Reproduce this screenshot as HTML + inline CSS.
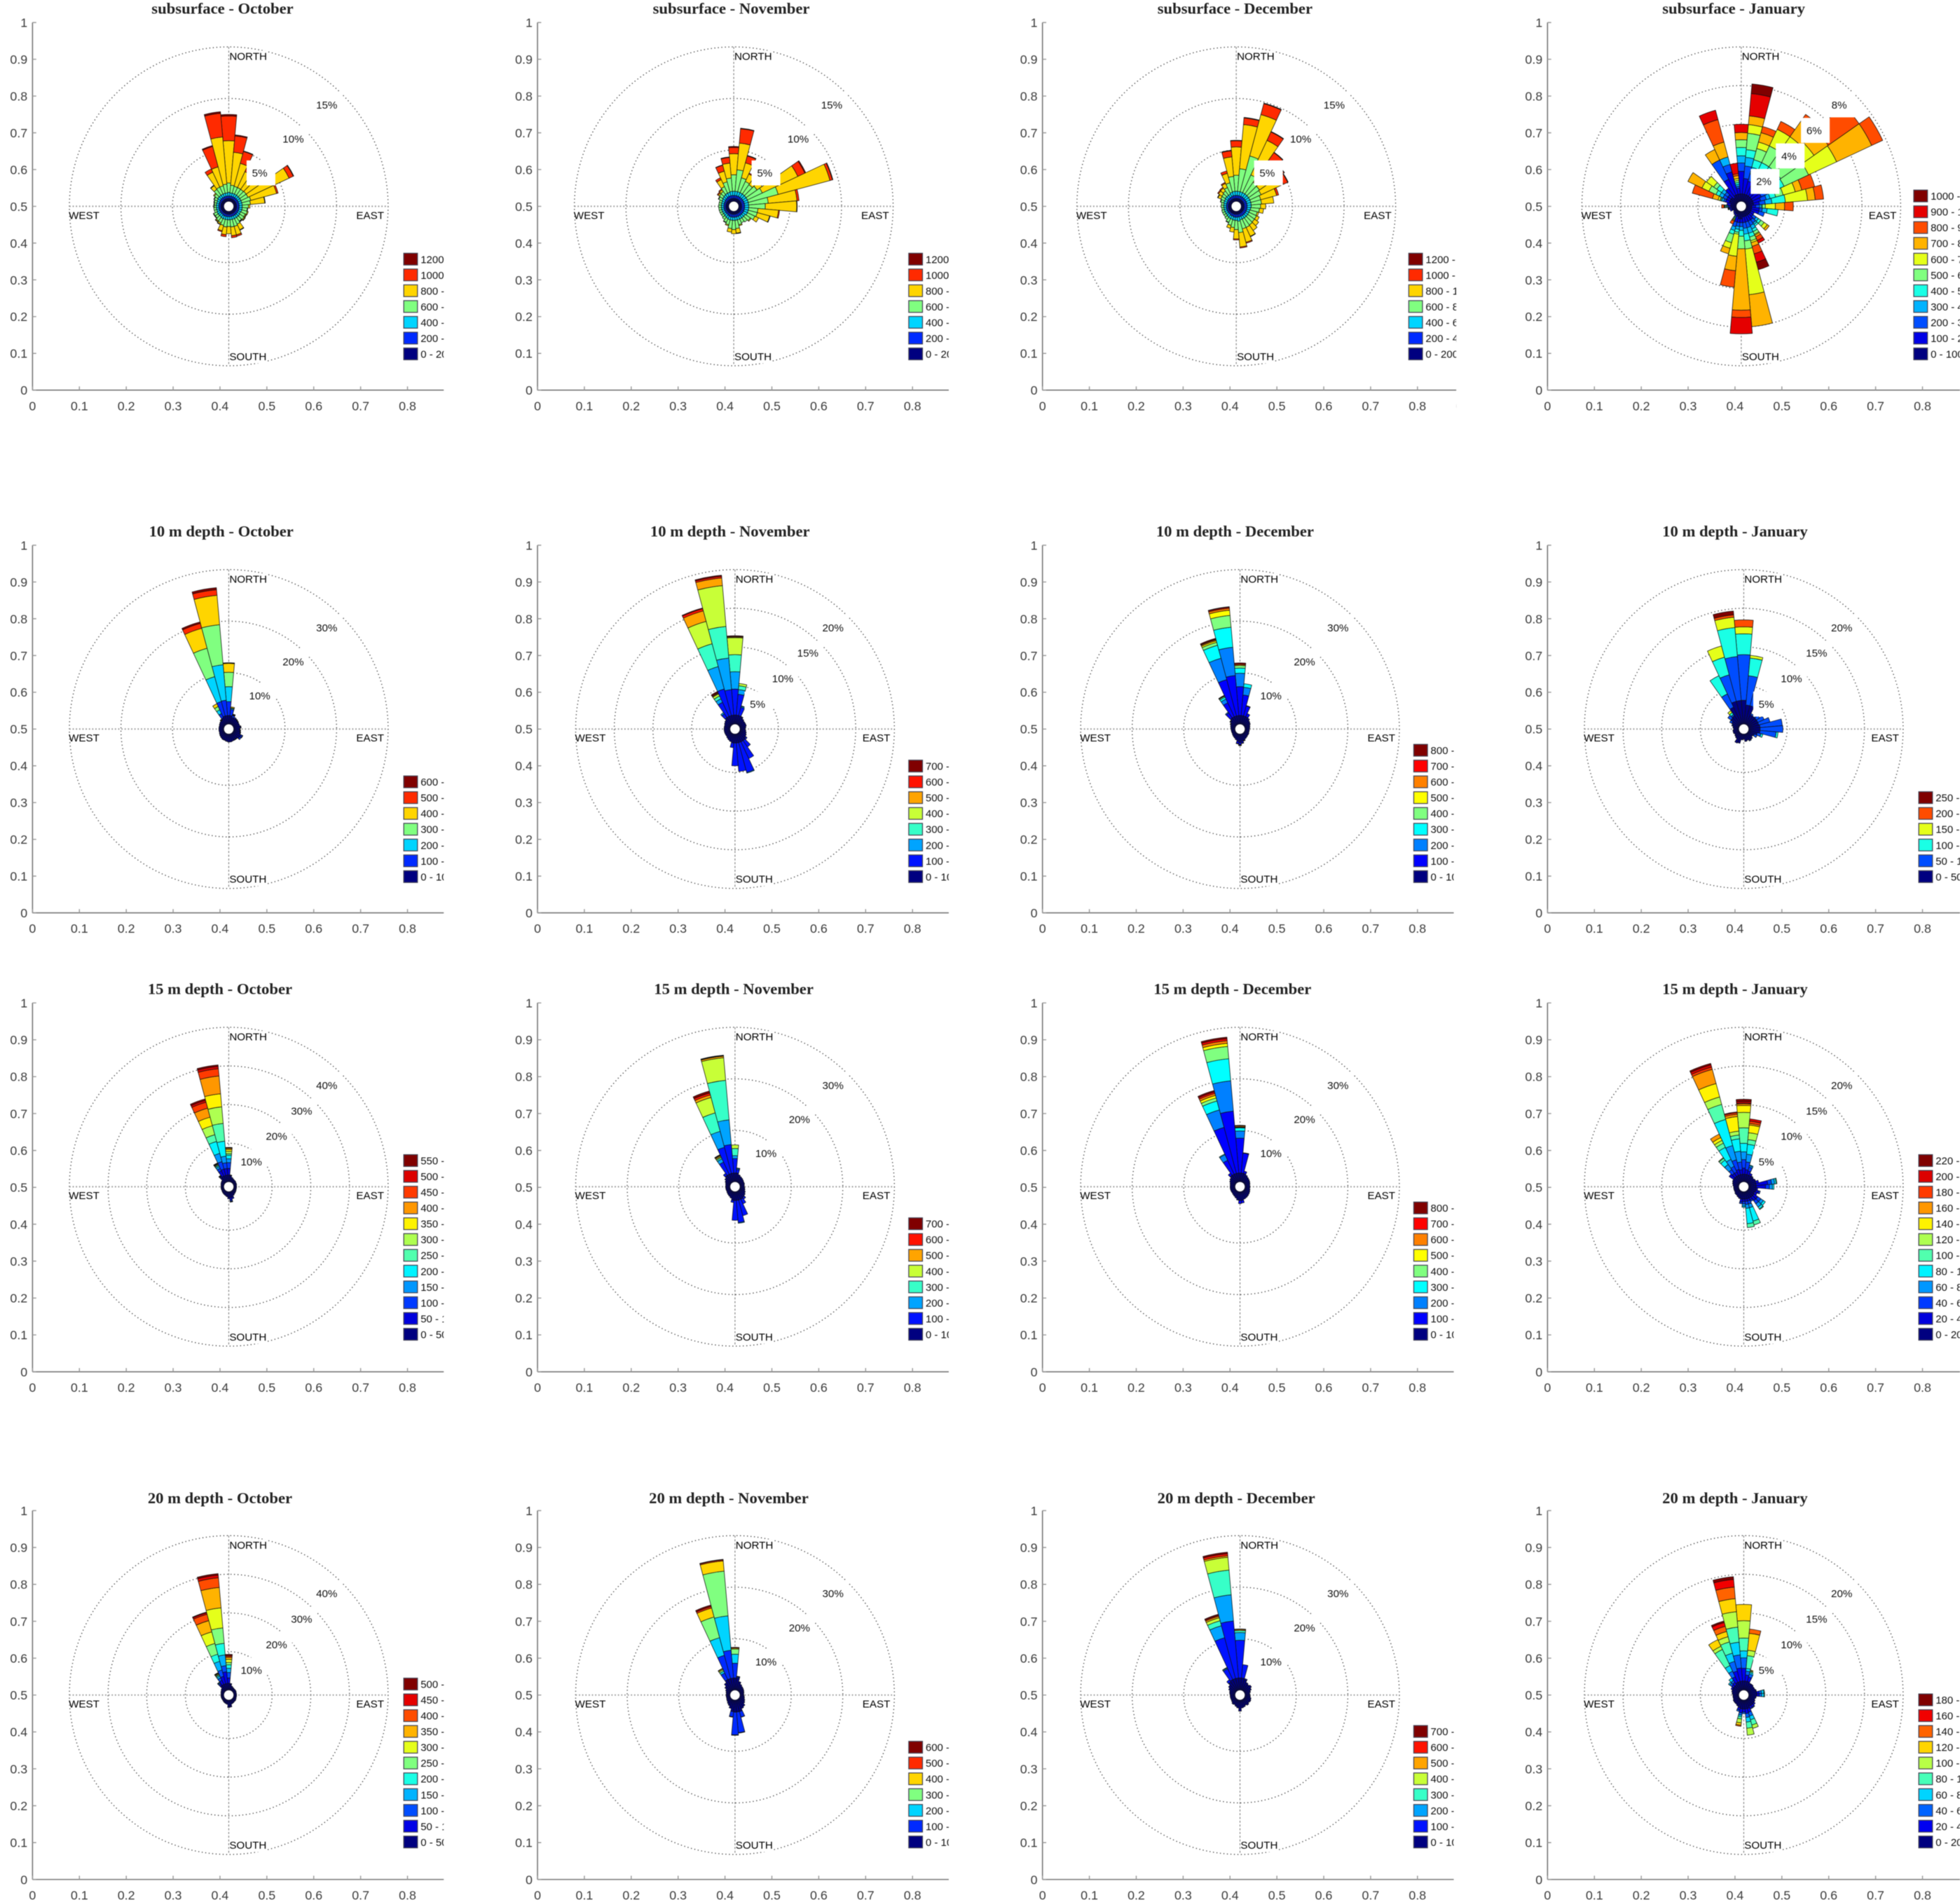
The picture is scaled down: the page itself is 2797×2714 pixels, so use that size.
<!DOCTYPE html>
<html lang="en">
<head>
<meta charset="utf-8">
<title>Wind rose panels by depth and month</title>
<style>
html,body{margin:0;padding:0;background:#fff}
svg{display:block;width:2797px;height:2714px;filter:blur(0.5px)}
text{font-family:"Liberation Sans",sans-serif}
.ttl{font-family:"Liberation Serif",serif;font-weight:bold;font-size:12.7px;fill:#222;text-anchor:middle}
.tick{font-size:10px;fill:#3c3c3c}
.cmp{font-size:8.5px;fill:#000}
.rng{font-size:8.5px;fill:#111;text-anchor:middle}
.leg{font-size:8.4px;fill:#111}
</style>
</head>
<body>
<svg id="chart" xmlns="http://www.w3.org/2000/svg" viewBox="0 0 1568 1521" preserveAspectRatio="none"></svg>
<script>
/* Category labels */
const depthNames = ["subsurface", "10 m depth", "15 m depth", "20 m depth"];
const monthNames = ["October", "November", "December", "January"];
const xTickLabels = ["0","0.1","0.2","0.3","0.4","0.5","0.6","0.7","0.8","0.9"];
const yTickLabels = ["0","0.1","0.2","0.3","0.4","0.5","0.6","0.7","0.8","0.9","1"];
/* Percent-of-time ring labels for each panel */
const ringValues = [
 [[5,10,15],[5,10,15],[5,10,15],[2,4,6,8]],
 [[10,20,30],[5,10,15,20],[10,20,30],[5,10,15,20]],
 [[10,20,30,40],[10,20,30],[10,20,30],[5,10,15,20]],
 [[10,20,30,40],[10,20,30],[10,20,30],[5,10,15,20]]
];
/* Legend bins: bin count and bin width for each panel */
const binCounts = [[7,7,7,11],[7,8,9,6],[12,8,9,12],[11,7,8,10]];
const binSteps = [[200,200,200,100],[100,100,100,50],[50,100,100,20],[50,100,100,20]];

/* Each series: 36 directions (0,10,...,350 deg clockwise from north); each row is the stacked percent per bin */
const subsurfaceOctober = [
[.3,.25,.35,.9,4.1,2.4,.15],[.3,.25,.3,.75,3.2,1.6,.1],[.3,.25,.3,.7,2.3,1.2,.05],[.3,.25,.3,.7,1.7,.4],[.3,.25,.3,.7,1.7,.3],[.3,.25,.3,.75,3,.2],
[.3,.25,.3,.75,4.4,.45,.05],[.3,.25,.3,.9,2.6,.15],[.3,.25,.3,.8,1.4,.05],[.3,.25,.3,.6,.15],[.3,.25,.3,.5,.05],[.3,.25,.3,.55,.1],
[.3,.25,.25,.5,.1,.05],[.3,.25,.3,.5,.1,.05],[.3,.25,.3,.45,.05,.05],[.3,.25,.3,.6,.6,.05],[.3,.25,.3,.7,.85,.15],[.3,.25,.3,.7,.85,.2],
[.3,.25,.3,.65,.7],[.3,.25,.3,.7,.75,.2],[.3,.25,.3,.6,.55,.1],[.3,.25,.3,.45,.15,.05],[.3,.2,.3,.45,.1,.05],[.3,.2,.3,.35,.05],
[.3,.2,.3,.35,.05],[.3,.2,.25,.25],[.3,.2,.25,.25],[.3,.2,.25,.2,.05],[.3,.2,.25,.2,.05],[.3,.2,.25,.25,.05],
[.3,.2,.3,.3,.05],[.3,.25,.3,.4,.1],[.3,.25,.3,.7,.45,.05],[.3,.25,.3,.75,1.6,.35],[.3,.25,.3,.75,1.9,2.05,.1],[.3,.25,.3,.85,4.6,2.3,.15]
];
const subsurfaceNovember = [
[.3,.3,.4,1.6,2.05,.6,.1],[.3,.3,.4,2.1,2.6,1.4,.05],[.3,.3,.4,1.4,1.5,.7,.05],[.3,.3,.4,1.2,.8,.1],[.3,.3,.4,1.1,.5],[.3,.3,.4,1.3,.6],
[.3,.3,.4,1.6,3.8,.75,.1],[.3,.3,.4,3,5.2,.25,.05],[.3,.3,.4,1.9,2.8,.2],[.3,.3,.4,1.6,3.05,.05],[.3,.3,.4,.9,2,.1],[.3,.3,.4,.9,1.25,.05],
[.3,.3,.4,.8,.4],[.3,.3,.3,.6,.1],[.3,.3,.3,.5],[.3,.3,.3,.4],[.3,.3,.3,.5,.1],[.3,.3,.3,.8,.45,.05],
[.3,.3,.3,.9,.4],[.3,.3,.3,.8,.35],[.3,.3,.3,.5,.1],[.3,.25,.3,.4,.05],[.3,.2,.3,.3],[.3,.2,.25,.25],
[.3,.2,.25,.25],[.3,.2,.25,.25],[.3,.2,.25,.25],[.3,.2,.25,.25],[.3,.2,.25,.25],[.3,.2,.25,.25],
[.3,.2,.3,.35,.05],[.3,.25,.3,.4,.15,.1],[.3,.25,.35,.4,.2,.1],[.3,.3,.35,.7,.75,.2],[.3,.3,.35,1.05,1.07,.6,.03],[.3,.3,.4,1.3,1.45,.55,.05]
];
const subsurfaceDecember = [
[.3,.3,.4,1.55,2.75,.6,.05],[.3,.3,.4,2.2,4.3,.65,.05],[.3,.3,.4,3.6,4.15,1.1,.05],[.3,.3,.4,1.9,3.7,.9,.05],[.3,.3,.4,1.4,2.6,.9,.05],[.3,.3,.4,1.3,2.2,.7,.05],
[.3,.3,.4,1.2,2.4,.45,.05],[.3,.3,.4,1,1.6,.2],[.3,.3,.4,1,1.2],[.3,.3,.4,.9,.5],[.3,.3,.35,.85,.4],[.3,.3,.3,.75,.15],
[.3,.3,.3,.8,.3],[.3,.3,.3,.8,.5],[.3,.3,.3,.85,.65],[.3,.3,.3,.9,.95,.05],[.3,.3,.3,.9,1.35,.1],[.3,.3,.4,1.1,1.4,.1],
[.3,.3,.3,.9,.9,.1],[.3,.3,.3,.7,.45],[.3,.25,.3,.6,.3],[.3,.25,.3,.4,.05],[.3,.2,.3,.3],[.3,.2,.25,.25],
[.3,.2,.25,.25],[.3,.2,.25,.25],[.3,.2,.25,.2],[.3,.2,.25,.25],[.3,.2,.25,.25],[.3,.2,.3,.3,.05],
[.3,.2,.3,.4,.3,.05],[.3,.25,.3,.4,.4,.1],[.3,.25,.3,.5,.35,.1],[.3,.25,.3,.7,.45,.1],[.3,.3,.35,.95,.95,.25],[.3,.3,.4,1.45,1.9,.6,.05]
];
const subsurfaceJanuary = [
[.4,1.17,.43,.37,.43,.4,0,.37,0,.43],[.4,.8,.65,.45,.4,.85,.45,.45,0,1.16,.5],[.4,.7,.4,.35,.4,.6,.35,.5,.33],[.4,.7,.4,.35,.4,.95,.95,0,.45],[.4,.7,.4,.35,.4,1,.9,1.15,.26],[.4,.7,.4,.35,.4,.95,1.15,.9,1.95],
[.4,.5,.4,.3,.6,1.4,1.6,2,.63],[.4,.4,.3,.2,.3,.4,.65,.35,.69],[.4,.3,.3,.35,.7,0,1.15,.4,.43],[.3,.2,.2,.1,.05,.15,.52,.48,.45],[.3,.4,.15,.25,.57],[.3,.4,.3],
[.3,.2],[.3,.2,.2,.15,.15,.2,.2,.12],[.3,.3,.2,.1,.1],[.3,.3,.25,.2,.15,.15,.05,.1,.2,.16],[.3,.3,.3,.3,.2,.2,.1,.2,.4,.45,.4],[.3,.3,.3,.3,.35,.42,2.37,1.66],
[.4,.2,.2,.2,.3,.65,0,3.18,.37,.85],[.4,.2,.2,.15,.15,.1,1.15,.75,.85],[.3,.3,.25,.2,.2,.45,.3,.3],[.2,.1,.05,.05,.05,.05,.05,.05,.17],[.2,.1],[.15,.1],
[.2],[.25,.1],[.25,.1,.05,.03,.02],[.3,.1,.05,.05,.05,.05,.02,.03,.12],[.3,.2],[.4,.2,.1,.1,.05,.05,.1,.3,1.08],
[.4,.2,.2,.2,.2,.4,.4,.8],[.4,.2,.2,.2,.3,.2,.45],[.3,.6],[.4,.9,1.1,0,0,0,0,.6],[.4,1.2,.4,.4,0,0,0,.8,1.2,.5],[.4,.3,.1,.1,.1,.1,.1,.15,.1,.55]
];
const depth10October = [
[1.7,2.7,2.9,2.8,1.7,.05,.1],[1.7,1.2,.2,.1,.2],[1.4,.4,.1,.1,.1],[1.4,.2],[1.4,.1],[1.3,.1],
[1.3],[1.3],[1.4,.1],[1.2,.1],[1.3,.1],[1.4,.1],
[1.7,.3,.1],[1.7,.3],[1.4,.1],[1.4,.1],[1.5],[1.6],
[1.6],[1.5],[1.4],[1.4],[1.3],[1.2],
[1.1],[1],[1],[1],[1],[1],
[1.1],[1.2],[1.2,.1,.05,.05,.05],[1.5,.9,.8,.7,.6],[1.7,2.9,5,5.7,4,1,.3],[1.7,3,6.9,7.8,5.7,1.1,.4]
];
const depth10November = [
[1.2,3.35,2.25,2.2,2.2,.1,.05,.1],[1.2,2.7,.6,.5,.3],[1.2,1.1,.15,.05],[1.1,.1],[1],[.9],
[.9],[.9],[.8],[.7],[.8],[.9],
[1],[1.1,.2],[1.2,1],[1.2,2.4],[1.2,4,.1],[1.2,3.7],
[1.2,2.95],[1.2,.6],[1.1],[1],[.9],[.8],
[.8],[.8],[.8],[.8],[.8],[.8],
[.9],[1],[1.2,.6,.2],[1.2,2,.5,.4,.3,.1,.1,.15],[1.2,3.55,3,3.05,3,1.4,.3,.1],[1.2,3.3,4.1,4.1,5.3,1,.2,.15]
];
const depth10December = [
[1.7,5.6,2.6,1,.5,0,.2,0,.3],[1.7,4,1.5,.7],[1.7,2,.1],[1.7,.7],[1.5,.2],[1.4],
[1.3],[1.1],[1],[.9],[.9],[.9],
[1],[1],[1.1],[1.2],[1.4,.1],[1.5,.3,.1],
[1.7,.4,.1,.1],[1.5,.4,.1],[1.3],[1.1],[1],[.9],
[.8],[.8],[.8],[.8],[.9],[1],
[1.1,.1],[1.4,.1],[1.7,1.2,.2],[1.7,3,.8,.4,.2,.1,.05,.05],[1.7,7.3,4.3,2.6,.6,.3,.2,.1,.2],[1.7,7.8,5.5,3.9,2.3,1,.4,.2,.1]
];
const depth10January = [
[3.1,5.9,2.7,.9,.9],[2.5,3.8,2.3,.35],[2.5,1.75],[1.4,.2],[1.4,.3],[1.4,.5],
[1.4,.9],[1.4,1.5],[1.5,2.9],[1.5,2.95],[1.5,2.1,.25],[1.2,.5,.25],
[.9,.4],[.8],[1],[1,.1],[.9],[1],
[.7],[.8],[1.3],[1.4],[.9],[.8],
[.7],[.8],[.8],[.7],[.8],[.9,.1],
[1.1,.3],[1.4,.5],[1.5,.2,.3,.3],[2.5,1.9,2.6],[3.1,3.55,2.35,1.5],[3.1,5.7,3.75,1.35,.3,.5]
];
const depth15October = [
[1.8,1.7,1.5,1,.9,.4,.6,.5,.3,.1,.05,.1],[1.7,.1,.05],[1.3],[1.1],[1],[1],
[.9],[.9],[.8],[.8],[.8],[.8],
[.9],[1],[1.1],[1.3],[1.6,.4],[1.6,.7,.3,.1,.1],
[1.6,.3],[1.4],[1.2],[1.1],[1],[.9],
[.8],[.8],[.8],[.8],[.8],[.9],
[1],[1.1],[1.6,.3,.2,.1,.1,.1],[1.8,1.5,.7,.5,.3,.2,.2,.1,.1,.1,.1],[1.8,1.7,2,2.2,3.2,1.8,2.4,2.3,2.4,1.6,.5,.4],[1.8,1.7,1.5,1.7,3.9,4.6,4.3,3.4,4.6,1.9,.6,.4]
];
const depth15November = [
[1.75,2.8,.55,1.4,.7],[1.75,.7,.2,.1],[1.5],[1.3],[1.2],[1.1],
[1],[1],[.9],[.9],[1],[1.1],
[1.3],[1.5],[1.6,.4],[1.75,1],[1.75,3.15],[1.75,4.3,.15],
[1.75,3.85],[1.75,.4],[1.4],[1.2],[1.1],[1],
[.9],[.9],[.9],[.9],[.9],[1],
[1.2],[1.5],[1.75,.5],[1.75,2.6,.7,.3,.2,.2,.1,.1],[1.75,5.25,3.2,3.7,3.1,.5,.4,.4],[1.75,5.55,4.8,7.7,4.4,.3,.1,.1]
];
const depth15December = [
[1.75,6.75,1.4,.6,.1,.1,.2,0,.1],[1.75,3.85,.1],[1.75,.45],[1.6],[1.4],[1.3],
[1.2],[1.1],[1],[1],[1],[1.1],
[1.2],[1.3],[1.4],[1.5],[1.6],[1.75,.5],
[1.75,.6],[1.7],[1.4],[1.2],[1.1],[1],
[1],[1],[1],[1],[1],[1.1],
[1.3],[1.5],[1.75,.55],[1.75,3,1.2,.15],[1.75,9.25,3.5,1.8,.6,.5,.4,.3,.3],[1.75,12.05,5.9,4.3,2.4,.6,.5,.4,.3]
];
const depth15January = [
[1,.8,1.1,1,1.1,2,2,.9,.2,.1,.2,.3],[1,.6,1,1,1.3,.6,.9,1,.2,.3,.3],[1,.5,.5,.2,.1],[1,.3],[1,.1],[1],
[1.1],[1,.4],[1,1.5,.5,.4,.2,.1],[1,1.2,.5,.4,.2],[1,.2],[1,.4,.2],
[.9,.4],[1,.6,.5,.4,.3],[1,.6,.5,.5,.3,.1],[1,.3,.2],[1,.3,.4,.5,1.8,.5],[1,.3,.4,.5,2,.5],
[1,.3,.3,.3,.15],[1,.4,.2],[1],[.9],[.8],[.8],
[.7],[.7],[.7],[.7],[.8],[.9],
[1],[1,.7],[1,.5,.6,.8,.7,.3,.1],[1,.5,.8,1,1.7,.6,.4,.4,.5],[1,.7,1.3,1.9,3.5,2,1,1.8,1.9,.3,.3,.2],[1,.6,1,1.4,1.6,.5,.5,1.9,.3,.2,.1]
];
const depth20October = [
[1.8,1.4,1.4,1.1,.9,.6,.8,.5,.3,.3,.2],[1.6,.2],[1.2],[1],[.9],[.9],
[.9],[.8],[.8],[.8],[.8],[.8],
[.9],[1],[1],[1.1],[1.2],[1.7,.2],
[1.8,.2],[1.2],[1.1],[1],[.9],[.8],
[.8],[.8],[.8],[.8],[.8],[.9],
[1],[1.2],[1.8,.5,.3,.2,.1],[1.8,1.2,.7,.5,.3,.2,.2,.1,.1,.1],[1.8,2,1.7,2.3,1.9,2.9,3.1,3,1.7,.4,.2],[1.8,3,1.6,2.8,3,4,5.2,5.3,2.5,.7,.4]
];
const depth20November = [
[2.4,2.85,1.75,1,.2,0,.15],[2.4,.2,.1,.05],[1.8],[1.4],[1.2],[1.1],
[1],[.9],[.8],[.8],[.9],[1],
[1.2],[1.4],[1.8],[2],[2.4,1.1,.05],[2.4,4,.1],
[2.4,4.4,.1],[2.3,1,.1],[1.8],[1.4],[1.2],[1],
[.9],[.8],[.8],[.8],[.8],[.9],
[1.1],[1.5],[2],[2.4,1.4,.4,.3,.2,.1],[2.4,4.65,3.55,4.15,1.8,.3,.3],[2.4,5.4,6.7,8.7,2,.2,.1]
];
const depth20December = [
[2.4,7.3,1.5,.4,0,.2,0,.1],[2.4,2.6],[2.2,.2],[1.8],[1.6],[1.8],
[1.5],[1.2],[1],[1],[1.1],[1.3],
[1.4],[1.3],[1.5],[1.3],[1.5],[1.6],
[2.2],[1.6],[1.4],[1.2],[1.3],[1.1],
[1],[1],[1],[1],[1.1],[1.2],
[1.5],[1.8],[2.2,.5],[2.4,2.3,.2,.1],[2.4,8.2,2.4,1,.6,.3,.2,.2],[2.4,11.1,5.1,4.8,2.5,.3,.4,.3]
];
const depth20January = [
[1.2,1.65,1.35,.9,1.65,2.25,2.1],[1.2,.8,.5,.35,1.65,.7,2.2,.55],[1.2,.6,.4,.2,.15,.1,.1],[1.1],[1.1],[1],
[1],[1,.1],[1.1,.3,.3,.3,.1],[1.1,.3,.3,.3,.1],[1],[.9],
[1],[1,.2],[1,.3,.1],[1,.3,.1],[1.2,.5,.5,.5,.7,.45],[1.2,.6,.5,.6,.8,.9],
[1.2,.4,.2],[1.2,.5,.3,.2,.3,.5,.3,.15],[1.1,.3,.2],[1],[.9],[.9],
[.9],[.8],[.8],[.8],[.9],[1],
[1,.2],[1,.3,.3,.2],[1,.4,.3,.4],[1.2,.8,.8,.8,2.3,.45,.95],[1.2,1.4,1.3,1.1,1.5,.7,.7,.7,.5,.2],[1.2,1.7,1.7,1.65,1.95,2,1.7,1.5,1,.35]
];
const panelStacks = [
 [subsurfaceOctober, subsurfaceNovember, subsurfaceDecember, subsurfaceJanuary],
 [depth10October, depth10November, depth10December, depth10January],
 [depth15October, depth15November, depth15December, depth15January],
 [depth20October, depth20November, depth20December, depth20January]
];

/* Layout (in 1568x1521 view units) */
const LAYOUT = {
 x0: [[26,430,834,1238],[26,430,834,1238],[26,430,834,1238],[26,430,834,1238]],
 right: [[355,759,1165,1568],[355,759,1163,1568],[355,759,1163,1568],[355,759,1163,1568]],
 cx: [[183,587,989,1393],[183,588,992,1395],[183,588,992,1395],[183,588,992,1395]],
 cy: [165,583,949,1355.5],
 yTop: [18,436,802,1208],
 yBot: [312,730,1097,1503],
 titleX: [[178,585,988,1387],[177,584,988,1388],[176,587,986,1388],[176,583,989,1388]],
 titleY: [11,429,795,1202],
 legX: [[323,727,1127,1531],[323,727,1131,1535],[323,727,1131,1535],[323,727,1131,1535]],
 legBottom: [283,701,1067,1473]
};
const HOLE = 3.8, OUTER = 127.5, XUNIT = 375, LEG_STEP = 12.63;
const NS = "http://www.w3.org/2000/svg";
const root = document.getElementById("chart");

function mk(tag, attrs, parent, txt) {
  const e = document.createElementNS(NS, tag);
  for (const k in attrs) e.setAttribute(k, attrs[k]);
  if (txt !== undefined) e.textContent = txt;
  parent.appendChild(e);
  return e;
}
function jet(t) {
  const c = v => Math.round(255 * Math.max(0, Math.min(1, v)));
  return "rgb(" + c(1.5 - Math.abs(4*t-3)) + "," + c(1.5 - Math.abs(4*t-2)) + "," + c(1.5 - Math.abs(4*t-1)) + ")";
}
function radiusScale(maxRing) { return v => HOLE + v / maxRing * (OUTER - HOLE); }
function polar(cx, cy, r, deg) {
  const a = deg * Math.PI / 180;
  return [cx + r * Math.sin(a), cy - r * Math.cos(a)];
}
function wedgePath(cx, cy, r1, r2, deg) {
  const p1 = polar(cx, cy, r1, deg - 5), p2 = polar(cx, cy, r2, deg - 5),
        p3 = polar(cx, cy, r2, deg + 5), p4 = polar(cx, cy, r1, deg + 5);
  const f = n => n.toFixed(2);
  return "M"+f(p1[0])+" "+f(p1[1])+"L"+f(p2[0])+" "+f(p2[1])+"A"+f(r2)+" "+f(r2)+" 0 0 1 "+f(p3[0])+" "+f(p3[1])+
         "L"+f(p4[0])+" "+f(p4[1])+"A"+f(r1)+" "+f(r1)+" 0 0 0 "+f(p1[0])+" "+f(p1[1])+"Z";
}

depthNames.forEach((depth, row) => monthNames.forEach((month, col) => {
  const x0 = LAYOUT.x0[row][col], right = LAYOUT.right[row][col], cx = LAYOUT.cx[row][col], cy = LAYOUT.cy[row];
  const yTop = LAYOUT.yTop[row], yBot = LAYOUT.yBot[row];
  const rings = ringValues[row][col], nBins = binCounts[row][col], step = binSteps[row][col];
  const stacks = panelStacks[row][col];
  const rOf = radiusScale(rings[rings.length - 1]);
  const xOf = v => x0 + v * XUNIT;
  const yOf = v => yBot - v * (yBot - yTop);

  const g = mk("g", {}, root);
  
  

  const clipId = "clip-" + row + "-" + col;
  const defs = mk("defs", {}, g);
  const cp = mk("clipPath", {id: clipId}, defs);
  mk("rect", {x: x0 - 30, y: yTop - 20, width: right - x0 + 30, height: yBot - yTop + 50}, cp);

  const title = mk("text", {class: "ttl", x: LAYOUT.titleX[row][col], y: LAYOUT.titleY[row]}, g, depth + " - " + month);
  
  

  /* axes */
  const yAxis = mk("line", {x1: x0, y1: yTop, x2: x0, y2: yBot, stroke: "#777", "stroke-width": 0.9}, g);
  
  
  const xAxis = mk("line", {x1: x0, y1: yBot, x2: right, y2: yBot, stroke: "#777", "stroke-width": 0.9}, g);
  
  

  const tickG = mk("g", {"clip-path": "url(#" + clipId + ")"}, g);
  
  
  yTickLabels.forEach((lab, i) => {
    const y = yOf(i / 10);
    mk("line", {x1: x0, y1: y, x2: x0 + 3, y2: y, stroke: "#999", "stroke-width": 0.8}, tickG);
    const t = mk("text", {class: "tick", x: x0 - 4, y: y + 3.6, "text-anchor": "end"}, tickG, lab);
    
    
  });
  xTickLabels.forEach((lab, i) => {
    const x = xOf(i / 10);
    mk("line", {x1: x, y1: yBot, x2: x, y2: yBot - 3, stroke: "#999", "stroke-width": 0.8}, tickG);
    const t = mk("text", {class: "tick", x: x, y: yBot + 16, "text-anchor": "middle"}, tickG, lab);
    
    
  });

  /* grid */
  rings.forEach(v => {
    const c = mk("circle", {cx: cx, cy: cy, r: rOf(v), fill: "none", stroke: "#333", "stroke-width": 0.75, "stroke-dasharray": "0.7 2.1"}, g);
    
    
  });
  const h = mk("line", {x1: cx - OUTER, y1: cy, x2: cx + OUTER, y2: cy, stroke: "#999", "stroke-width": 1.1, "stroke-dasharray": "1 1.6"}, g);
  
  
  const v = mk("line", {x1: cx, y1: cy - OUTER, x2: cx, y2: cy + OUTER, stroke: "#777", "stroke-width": 0.6, "stroke-dasharray": "1.6 1.4"}, g);
  
  

  /* wedges */
  const roseG = mk("g", {stroke: "#111", "stroke-width": 0.42, "stroke-linejoin": "round"}, g);
  
  
  stacks.forEach((stack, d) => {
    let cum = 0;
    stack.forEach((val, b) => {
      if (val <= 0) return;
      const w = mk("path", {d: wedgePath(cx, cy, rOf(cum), rOf(cum + val), d * 10), fill: jet(b / (nBins - 1))}, roseG);
      
      
      cum += val;
    });
  });
  const hole = mk("circle", {cx: cx, cy: cy, r: HOLE, fill: "#fff"}, g);
  
  

  /* ring labels */
  rings.forEach(val => {
    const r = rOf(val), lx = cx + 0.65 * r - 5, ly = cy - 0.66 * r + 3;
    const box = mk("rect", {x: lx - 10, y: ly - 10, width: 23, height: 20, fill: "#fff"}, g);
    
    
    const t = mk("text", {class: "rng", x: lx + 0.5, y: ly + 3}, g, val + "%");
    
    
  });

  /* compass labels */
  [["NORTH", cx + 0.5, cy - 117, 30], ["SOUTH", cx + 0.5, cy + 123, 30], ["WEST", cx - 128, cy + 10, 0], ["EAST", cx + 102, cy + 10, 0]].forEach(c => {
    if (c[3]) {
      const bg = mk("rect", {x: c[1], y: c[2] - 7.5, width: c[3], height: 10, fill: "#fff"}, g);
      
      
    }
    const t = mk("text", {class: "cmp", x: c[1], y: c[2]}, g, c[0]);
    
    
  });

  /* legend */
  const lg = mk("g", {"clip-path": "url(#" + clipId + ")"}, g);
  
  
  for (let b = 0; b < nBins; b++) {
    const y = LAYOUT.legBottom[row] - b * LEG_STEP, lx = LAYOUT.legX[row][col];
    const sw = mk("rect", {x: lx, y: y - 4.7, width: 11, height: 9.4, fill: jet(b / (nBins - 1)), stroke: "#445", "stroke-width": 0.7}, lg);
    
    
    const t = mk("text", {class: "leg", x: lx + 13.5, y: y + 3.1}, lg, (b * step) + " - " + ((b + 1) * step));
    
    
  }
}));
</script>
</body>
</html>
